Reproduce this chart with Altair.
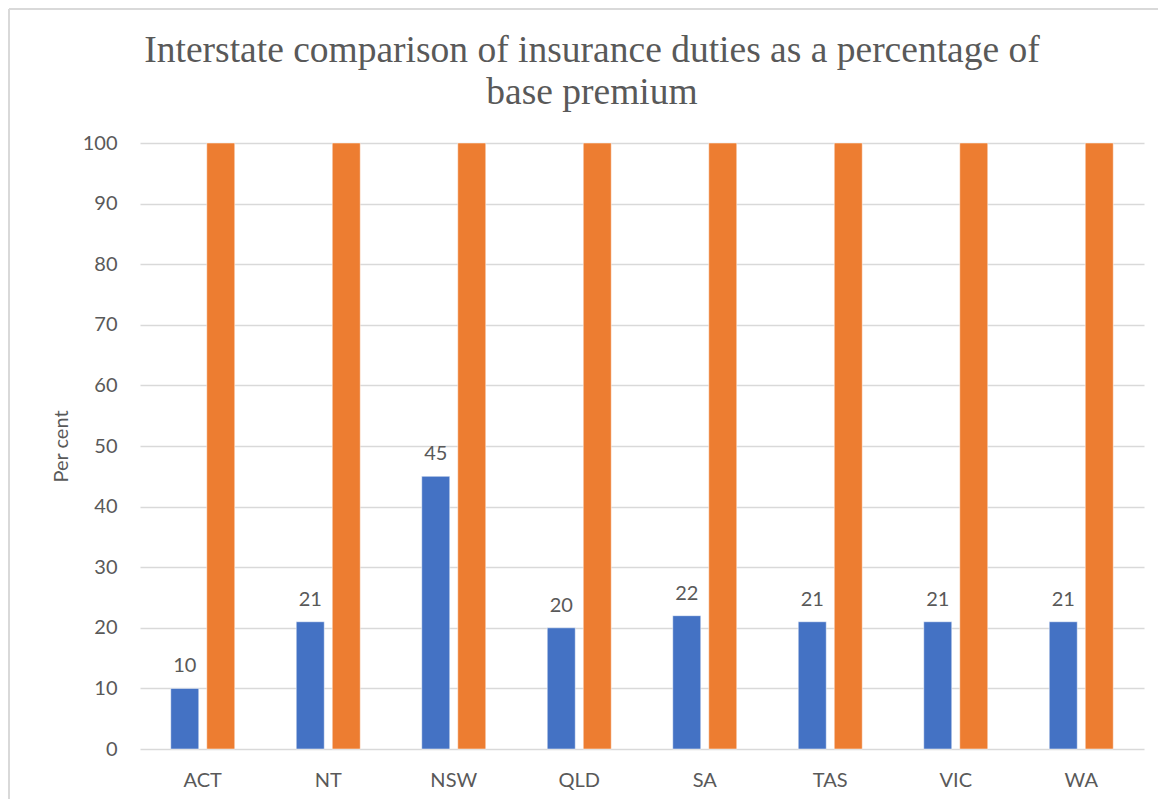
import altair as alt
import pandas as pd

states = ["ACT", "NT", "NSW", "QLD", "SA", "TAS", "VIC", "WA"]
duty = [10, 21, 45, 20, 22, 21, 21, 21]
base = [100, 100, 100, 100, 100, 100, 100, 100]
series_names = ["Insurance duty", "Base premium"]
colors = ["#4472C4", "#ED7D31"]

rows = []
for s, d, b in zip(states, duty, base):
    rows.append({"state": s, "series": series_names[0], "value": d})
    rows.append({"state": s, "series": series_names[1], "value": b})
df = pd.DataFrame(rows)

W, H = 1004, 606
font = "Lato"
txt = "#595959"

x = alt.X("state:N", sort=states, title=None,
          scale=alt.Scale(paddingInner=0.49, paddingOuter=0.245),
          axis=alt.Axis(labelAngle=0, labelFontSize=20, labelColor=txt, labelFont=font,
                        labelPadding=21, ticks=False, domain=False, grid=False))
xo = alt.XOffset("series:N", sort=series_names,
                 scale=alt.Scale(domain=series_names, paddingInner=0.222, paddingOuter=0))
y = alt.Y("value:Q", title="Per cent",
          scale=alt.Scale(domain=[0, 100], nice=False),
          axis=alt.Axis(values=list(range(0, 101, 10)), labelFontSize=20, labelColor=txt,
                        labelFont=font, labelPadding=23, ticks=False, domain=False,
                        grid=True, gridColor="#D9D9D9", gridWidth=1.3,
                        titleFont=font, titleFontSize=20, titleColor=txt,
                        titleFontWeight="normal", titlePadding=11))

bars = alt.Chart(df).mark_bar(stroke="white", strokeWidth=0.5).encode(
    x=x, xOffset=xo, y=y,
    color=alt.Color("series:N", sort=series_names,
                    scale=alt.Scale(domain=series_names, range=colors), legend=None),
)

labels = alt.Chart(df).transform_filter(
    alt.datum.series == series_names[0]
).mark_text(dy=-16, fontSize=20, font=font, color=txt, baseline="alphabetic").encode(
    x=x, xOffset=xo, y=y, text=alt.Text("value:Q"),
)

border_left = alt.Chart(df).mark_rule(color="#D9D9D9", strokeWidth=1.5).encode(
    x=alt.value(-131), y=alt.value(-134), y2=alt.value(H + 70))
border_top = alt.Chart(df).mark_rule(color="#D9D9D9", strokeWidth=1.5).encode(
    x=alt.value(-131), x2=alt.value(W + 14), y=alt.value(-134))

chart = alt.layer(bars, labels, border_left, border_top).properties(
    width=W, height=H,
    autosize=alt.AutoSizeParams(type="none"),
    padding={"left": 132, "top": 135, "right": 14, "bottom": 50},
    title=alt.TitleParams(
        ["Interstate comparison of insurance duties as a percentage of", "base premium"],
        font="Liberation Serif", fontSize=37.5, fontWeight="normal", color=txt,
        anchor="middle", frame="group", dx=-50, offset=-103, lineHeight=42,
    ),
).configure_view(stroke=None)

chart.save("out.html", embed_options={"renderer": "svg", "actions": False})
